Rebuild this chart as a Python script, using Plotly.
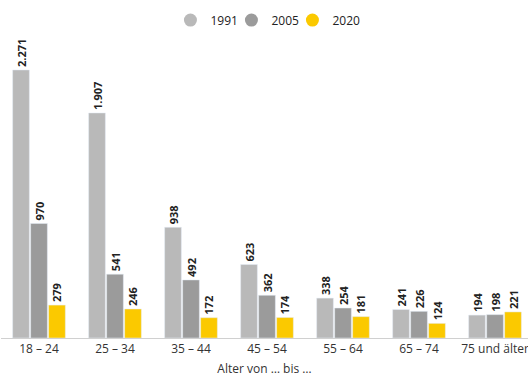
import plotly.graph_objects as go

categories = ["18 – 24", "25 – 34", "35 – 44", "45 – 54", "55 – 64", "65 – 74", "75 und älter"]
years = ["1991", "2005", "2020"]
v1991 = [2271, 1907, 938, 623, 338, 241, 194]
v2005 = [970, 541, 492, 362, 254, 226, 198]
v2020 = [279, 246, 172, 174, 181, 124, 221]
colors = ["#b9b9b9", "#9b9b9b", "#fbc900"]

series = [v1991, v2005, v2020]
fig = go.Figure()
for name, vals, col in zip(years, series, colors):
    fig.add_trace(go.Bar(
        x=categories, y=vals, name=name, marker_color=col, showlegend=False,
        text=vals, texttemplate="<b>%{y:,}</b>", textposition="outside",
        textangle=-90, constraintext="none", cliponaxis=False,
        outsidetextfont=dict(size=11, color="#222", family="Open Sans"),
    ))
for name, col in zip(years, colors):
    fig.add_trace(go.Scatter(
        x=[None], y=[None], mode="markers", name=name,
        marker=dict(symbol="circle", size=13, color=col), showlegend=True,
    ))
# invisible spacer entry so the last legend label is not clipped
fig.add_trace(go.Scatter(
    x=[None], y=[None], mode="markers", name=" ",
    marker=dict(symbol="circle", size=13, color="rgba(0,0,0,0)"), showlegend=True,
    hoverinfo="skip",
))

fig.update_layout(
    width=528, height=378,
    margin=dict(l=1, r=0, t=40, b=40),
    paper_bgcolor="white", plot_bgcolor="white",
    separators=",.",
    barmode="group", bargap=0.29, bargroupgap=0.07,
    font=dict(family="Open Sans", size=12, color="#333"),
    legend=dict(orientation="h", x=0.553, xanchor="center", y=0.947, yanchor="middle",
                yref="container", font=dict(size=12, color="#222"),
                itemwidth=30, tracegroupgap=0, entrywidth=16, entrywidthmode="pixels"),
    xaxis=dict(range=[-0.5, 6.434], showline=True, linecolor="#d0d0d0", linewidth=1,
               ticks="", tickfont=dict(size=12, color="#333"),
               title=dict(text="Alter von … bis …", font=dict(size=12, color="#333"), standoff=8)),
    yaxis=dict(range=[0, 2525], visible=False, showgrid=False, zeroline=False),
)
fig.write_html("out.html")
